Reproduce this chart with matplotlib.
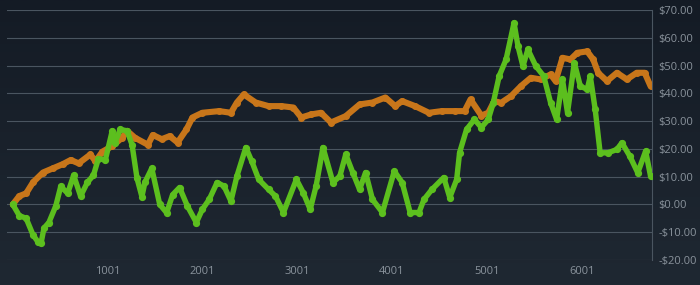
import numpy as np
import matplotlib as mpl
mpl.use('Agg')
import matplotlib.pyplot as plt

# key points (trade index, $ value)
orange_idx = [1, 69, 142, 215, 320, 424, 528, 612, 696, 820, 873, 946, 1050, 1154,
              1207, 1290, 1426, 1478, 1572, 1656, 1739, 1833, 1896, 2000, 2177, 2302,
              2365, 2438, 2563, 2699, 2835, 2960, 3044, 3148, 3252, 3357, 3513, 3659,
              3795, 3931, 4035, 4108, 4244, 4390, 4526, 4662, 4766, 4829, 4943, 5016,
              5079, 5152, 5257, 5361, 5465, 5570, 5674, 5726, 5799, 5883, 5956, 6060,
              6123, 6175, 6269, 6373, 6478, 6582, 6666, 6728]
orange_val = [0.0, 3.0, 4.0, 8.0, 11.5, 13.0, 14.5, 16.0, 14.8, 18.0, 15.5, 19.0, 21.0, 24.0,
              26.5, 24.0, 21.5, 25.0, 23.5, 24.6, 22.3, 27.0, 31.3, 33.0, 33.6, 33.0,
              36.7, 39.6, 36.7, 35.4, 35.4, 34.9, 31.3, 32.4, 33.0, 29.5, 31.8, 36.0,
              36.7, 38.5, 35.4, 37.2, 35.4, 33.0, 33.6, 33.6, 33.6, 37.8, 32.0, 33.0,
              37.2, 36.6, 39.0, 42.6, 45.6, 45.0, 46.8, 44.4, 52.8, 52.2, 54.6, 55.1,
              52.2, 47.4, 44.4, 47.4, 45.0, 47.4, 47.4, 42.6]

green_idx = [1, 69, 142, 215, 267, 299, 330, 382, 455, 507, 580, 643, 716, 789, 852,
             904, 977, 1050, 1081, 1133, 1207, 1259, 1311, 1363, 1395, 1467, 1551, 1624,
             1687, 1760, 1843, 1937, 2000, 2073, 2156, 2229, 2302, 2365, 2459, 2521,
             2595, 2699, 2772, 2856, 2992, 3064, 3138, 3200, 3273, 3378, 3451, 3513,
             3587, 3659, 3722, 3795, 3900, 4025, 4108, 4192, 4286, 4338, 4422, 4547,
             4610, 4683, 4714, 4787, 4870, 4943, 5016, 5069, 5131, 5204, 5288, 5330,
             5382, 5434, 5518, 5601, 5674, 5737, 5799, 5852, 5924, 5987, 6060, 6092,
             6144, 6196, 6280, 6373, 6426, 6509, 6593, 6676, 6728]
green_val = [0.0, -4.0, -5.0, -11.0, -13.5, -14.0, -8.5, -6.5, -0.5, 6.5, 4.0, 10.5, 3.0, 8.0, 10.5,
             16.5, 16.0, 26.5, 22.3, 27.0, 26.5, 21.5, 9.5, 2.8, 8.0, 13.0, 0.0, -3.0,
             3.5, 6.1, -0.6, -6.5, -1.8, 1.8, 7.9, 6.6, 1.2, 10.2, 20.5, 15.6,
             9.0, 5.4, 3.0, -2.9, 9.0, 4.3, -1.8, 6.6, 20.5, 7.9, 10.2, 18.0,
             11.5, 5.4, 11.5, 1.8, -2.9, 12.0, 7.9, -2.9, -2.9, 1.8, 5.4, 9.7,
             2.5, 9.0, 18.7, 27.0, 30.6, 27.7, 30.6, 36.6, 46.2, 52.2, 65.4, 56.9,
             49.8, 55.8, 49.8, 46.2, 36.6, 30.6, 45.0, 33.0, 51.0, 42.6, 41.4, 46.2,
             34.2, 18.6, 18.6, 19.8, 22.2, 17.4, 11.4, 19.2, 10.2]

x_ticks = [1001, 2001, 3001, 4001, 5001, 6001]
y_ticks = [-20, -10, 0, 10, 20, 30, 40, 50, 60, 70]

plt.rcParams["font.family"] = ["Open Sans", "DejaVu Sans"]

fig = plt.figure(figsize=(7, 2.85), dpi=100)

# subtle vertical background gradient
bg = fig.add_axes([0, 0, 1, 1], zorder=-10)
grad = np.linspace(0, 1, 256).reshape(-1, 1)
cmap = mpl.colors.LinearSegmentedColormap.from_list("bg", ["#141b25", "#1f2832"])
bg.imshow(grad, aspect="auto", cmap=cmap, extent=[0, 1, 0, 1], origin="upper")
bg.axis("off")

ax = fig.add_axes([0.01, 0.0877, 0.921, 0.8772])
ax.patch.set_alpha(0)

ax.plot(orange_idx, orange_val, color="#c8761a", lw=4.4, solid_joinstyle="round",
        solid_capstyle="round", marker="o", ms=4, zorder=2)
ax.plot(green_idx, green_val, color="#5cbf1e", lw=3.9, solid_joinstyle="round",
        solid_capstyle="round", marker="o", ms=4.2, zorder=3)

ax.set_xlim(-60, 6740)
ax.set_ylim(-20, 70)
ax.set_xticks(x_ticks)
ax.set_yticks(y_ticks)
ax.set_yticklabels(["-$%.2f" % -v if v < 0 else "$%.2f" % v for v in y_ticks])
ax.yaxis.tick_right()
ax.grid(axis="y", color="#4a5560", lw=0.8)
ax.tick_params(colors="#8a939c", labelsize=8, length=0, pad=5)
ax.tick_params(axis="x", pad=4)
for side in ["top", "left", "bottom"]:
    ax.spines[side].set_visible(False)
ax.spines["right"].set_color("#4a5560")
ax.spines["right"].set_linewidth(0.8)

fig.savefig("out.png", dpi=100, facecolor="#19212b")
